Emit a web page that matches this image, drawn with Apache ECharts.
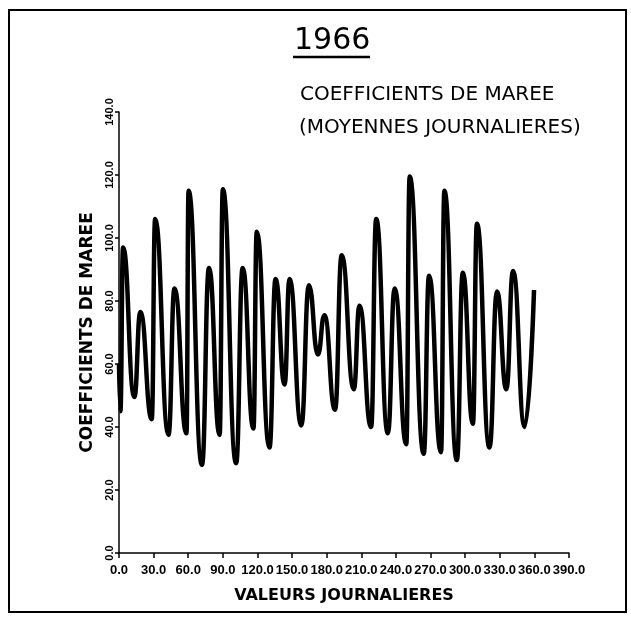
<!DOCTYPE html>
<html><head><meta charset="utf-8">
<script src="https://cdn.jsdelivr.net/npm/echarts@6/dist/echarts.min.js"></script>
<style>html,body{margin:0;padding:0;background:#fff}#c{width:631px;height:624px}</style>
</head><body><div id="c"></div>
<script>
// Day of year (at turning points of the curve)
const days = [0, 1.2, 3.5, 13.3, 18.5, 28.4, 31.3, 42.9, 48.1, 58.5, 60.3, 71.9, 78, 87.2, 90,
  101.5, 107.2, 116.5, 119.4, 130.4, 135.7, 143.5, 147.8, 158, 164.6, 172.4, 178, 187.2, 193,
  203.5, 208.4, 218.5, 222.9, 233, 238.9, 249, 251.9, 264.1, 268.7, 279.1, 282, 292.8, 298,
  306.7, 310.2, 321.1, 327.6, 335.7, 341.5, 351.6, 359.7];
// Daily mean tide coefficient at those days
const coefs = [60, 45, 97, 49.5, 76.5, 42.5, 106, 37.5, 84, 38, 115, 28, 90.5, 37.5, 115.5,
  28.5, 90.5, 39.5, 102, 33.5, 87, 53.5, 87, 40.5, 85, 63, 75.5, 45.5, 94.5,
  52, 78.5, 40, 106, 38, 84, 34.5, 119.5, 31.5, 88, 32, 115, 29.5, 89,
  41, 104.5, 33.5, 83, 52, 89.5, 40, 83.5];
const xTicks = [0, 30, 60, 90, 120, 150, 180, 210, 240, 270, 300, 330, 360, 390];
const yTicks = [0, 20, 40, 60, 80, 100, 120, 140];

const chart = echarts.init(document.getElementById('c'), null, {renderer: 'canvas'});
const points = days.map((d, i) => [d, coefs[i]]);
const black = '#000';
chart.setOption({
  backgroundColor: '#fff',
  animation: false,
  grid: {left: 119, right: 62, top: 112, bottom: 71, containLabel: false, outerBoundsMode: 'none'},
  xAxis: {
    type: 'value', min: xTicks[0], max: xTicks[xTicks.length - 1], interval: 30,
    name: 'VALEURS JOURNALIERES', nameLocation: 'middle', nameGap: 35,
    nameTextStyle: {color: black, fontFamily: 'DejaVu Sans', fontWeight: 'bold', fontSize: 16},
    axisLine: {show: true, lineStyle: {color: black, width: 1.5}},
    axisTick: {show: true, length: 5, lineStyle: {color: black, width: 1.5}},
    splitLine: {show: false},
    axisLabel: {color: black, fontFamily: 'Liberation Sans', fontWeight: 'bold', fontSize: 13, margin: 11,
      showMinLabel: true, showMaxLabel: true, hideOverlap: false,
      formatter: v => v.toFixed(1)}
  },
  yAxis: {
    type: 'value', min: yTicks[0], max: yTicks[yTicks.length - 1], interval: 20,
    name: 'COEFFICIENTS DE MAREE', nameLocation: 'middle', nameGap: 22, nameRotate: 90,
    nameTextStyle: {color: black, fontFamily: 'DejaVu Sans', fontWeight: 'bold', fontSize: 17},
    axisLine: {show: true, lineStyle: {color: black, width: 1.5}},
    axisTick: {show: true, length: 4, lineStyle: {color: black, width: 1.5}},
    splitLine: {show: false},
    axisLabel: {color: black, fontFamily: 'Liberation Sans', fontWeight: 'bold', fontSize: 11, rotate: 90, margin: 4,
      showMinLabel: true, showMaxLabel: true, hideOverlap: false,
      formatter: v => v.toFixed(1)}
  },
  series: [{
    type: 'line', data: points, showSymbol: false, smooth: 0.5, smoothMonotone: 'x',
    lineStyle: {color: black, width: 4.5}, itemStyle: {color: black}
  }],
  graphic: [
    {type: 'rect', shape: {x: 9, y: 10, width: 617, height: 602}, style: {fill: 'none', stroke: black, lineWidth: 2}, silent: true},
    {type: 'text', left: 294, top: 26, style: {text: '1966', fill: black, font: '30px "DejaVu Sans"'}},
    {type: 'line', shape: {x1: 293, y1: 57, x2: 370, y2: 57}, style: {stroke: black, lineWidth: 2.5}},
    {type: 'text', left: 300, top: 85, style: {text: 'COEFFICIENTS DE MAREE', fill: black, font: '20px "DejaVu Sans"'}},
    {type: 'text', left: 299, top: 118, style: {text: '(MOYENNES JOURNALIERES)', fill: black, font: '20px "DejaVu Sans"'}}
  ]
});
</script></body></html>
